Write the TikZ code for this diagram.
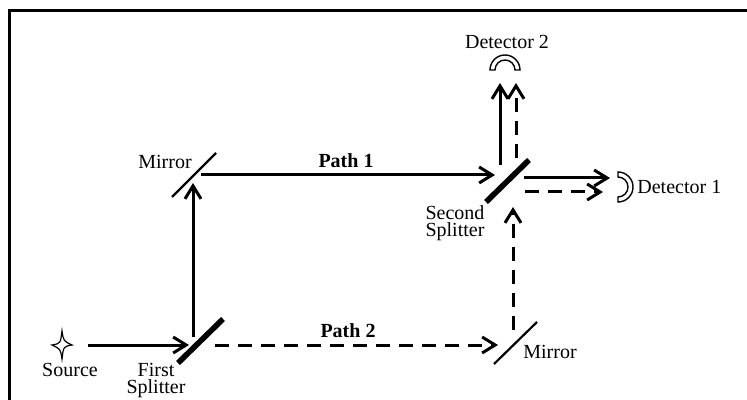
\documentclass[tikz,border=0pt]{standalone}
\usepackage{fontspec}
\setmainfont{Liberation Serif}
\usetikzlibrary{
	arrows.meta,
	positioning
}

\begin{document}
\begin{tikzpicture}[x=0.5pt,y=-0.5pt,font=\fontsize{10}{8.5}\selectfont,
	beam/.style={line width=1.5pt,-{Straight Barb[length=6.5pt,width=8pt]}},
	dbeam/.style={beam,dash pattern=on 7pt off 4.5pt},
	splitter/.style={line width=2.8pt},
	mirror/.style={line width=1.1pt},
	lbl/.style={inner sep=0pt,align=center}]
	\useasboundingbox (0,0) rectangle (747,400);
	\draw[line width=1.5pt] (9,400) -- (9,11) -- (747,11);

	% parts
	\coordinate (src) at (62,345);
	\draw[line width=0.6pt] (src)
		++(0,-14) .. controls +(1.5,10) .. ++(10,14)
		.. controls +(-8.5,1.5) .. ++(-10,14)
		.. controls +(-1.5,-10) .. ++(-10,-14)
		.. controls +(8.5,-1.5) .. ++(10,-14) -- cycle;
	\draw[splitter] (178,363) -- (223,319);
	\draw[splitter] (486,202) -- (529,160);
	\draw[mirror]   (172,197) -- (216,153);
	\draw[mirror]   (494,364) -- (537,322);
	\draw[line width=0.7pt] (490,70) arc[start angle=180,end angle=0,radius=7.5pt]
		-- ++(-5,0) arc[start angle=0,end angle=180,radius=5pt] -- cycle;
	\draw[line width=0.7pt] (618,172) arc[start angle=90,end angle=-90,radius=7.5pt]
		-- ++(0,-5) arc[start angle=-90,end angle=90,radius=5pt] -- cycle;

	% labels
	\node[lbl] (srcl) at (70,370) {Source};
	\node[lbl] (bs1l) at (156,381) {First\\Splitter};
	\node[lbl] (bs2l) at (455,223) {Second\\Splitter};
	\node[lbl] (m1l)  at (165,162) {Mirror};
	\node[lbl] (m2l)  at (550,352) {Mirror};
	\node[lbl] (d2l)  at (507,42)  {Detector 2};
	\node[lbl,anchor=west] (d1l) at (637,187) {Detector 1};
	\node[lbl,font=\fontsize{10}{8.5}\selectfont\bfseries] (p1l) at (346,161) {Path 1};
	\node[lbl,font=\fontsize{10}{8.5}\selectfont\bfseries] (p2l) at (348,331) {Path 2};

	% beam ends
	\coordinate (srco)  at (88,345);
	\coordinate (bs1i)  at (189,345);
	\coordinate (bs1u)  at (193,337);
	\coordinate (m1i)   at (193,183);
	\coordinate (m1o)   at (201,175);
	\coordinate (bs2i)  at (495,175);
	\coordinate (bs1r)  at (215,345);
	\coordinate (m2i)   at (498,345);
	\coordinate (m2o)   at (513,330);
	\coordinate (bs2b)  at (513,207);
	\coordinate (bs2u)  at (500,165);
	\coordinate (d2a)   at (500,83);
	\coordinate (bs2ud) at (516,158);
	\coordinate (d2b)   at (516,83);
	\coordinate (bs2r)  at (524,178);
	\coordinate (d1a)   at (610,178);
	\coordinate (bs2rd) at (525,192);
	\coordinate (d1b)   at (603,192);

	\draw[beam]  (srco)  -- (bs1i);
	\draw[beam]  (bs1u)  -- (m1i);
	\draw[beam]  (m1o)   -- (bs2i);
	\draw[dbeam] (bs1r)  -- (m2i);
	\draw[dbeam] (m2o)   -- (bs2b);
	\draw[beam]  (bs2u)  -- (d2a);
	\draw[dbeam] (bs2ud) -- (d2b);
	\draw[beam]  (bs2r)  -- (d1a);
	\draw[dbeam] (bs2rd) -- (d1b);
\end{tikzpicture}
\end{document}
